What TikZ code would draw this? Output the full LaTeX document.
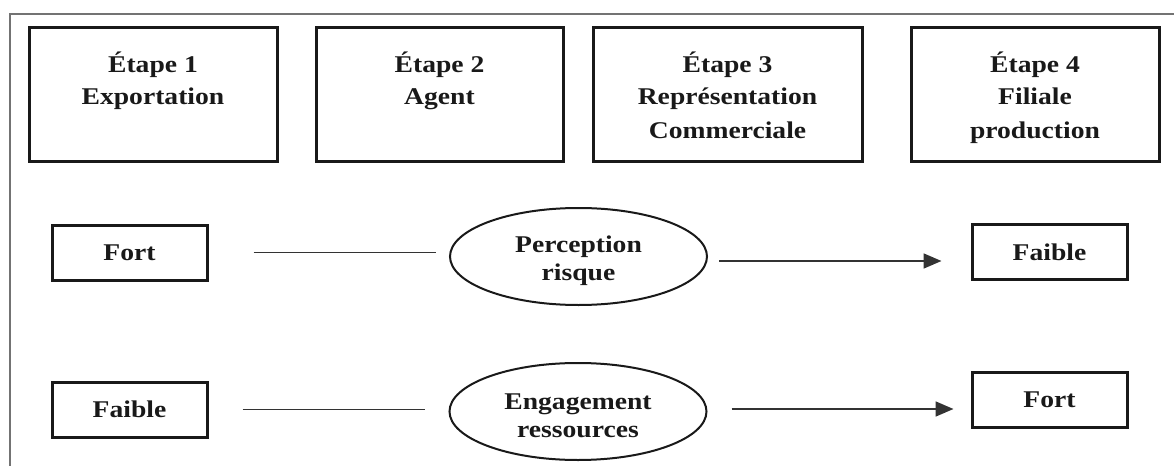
\documentclass[tikz,border=0pt]{standalone}
\usepackage{fontspec}
\setmainfont{Liberation Serif}[FakeStretch=1.15]
\usetikzlibrary{shapes.geometric,arrows.meta}
\tikzset{
  stepbox/.style={draw=black!90, line width=1.5pt, inner sep=0pt, minimum height=67pt},
  smallbox/.style={draw=black!90, line width=1.5pt, inner sep=0pt, minimum width=77.5pt, minimum height=27.5pt,
    font=\fontsize{12pt}{14pt}\selectfont\bfseries, text=black!90},
  ovalnode/.style={draw=black!90, ellipse, line width=1pt, inner sep=0pt, minimum width=128.5pt, minimum height=48.5pt,
    align=center, font=\fontsize{12pt}{14pt}\selectfont\bfseries, text=black!90},
  conn/.style={draw=black!80, line width=0.9pt},
  arr/.style={conn, -{Triangle[length=9pt,width=7.5pt]}}
}
\newcommand{\steptext}[2]{\parbox[c][67pt][t]{#1}{\centering\fontsize{12pt}{16.5pt}\selectfont\bfseries\color{black!90}\rule{0pt}{22.5pt}#2}}
\newcommand{\lowstrut}{\rule{0pt}{12.5pt}}
\begin{document}
\begin{tikzpicture}[x=0.5pt,y=-0.5pt]
\useasboundingbox (0,0) rectangle (1174,466);
\draw[black!55, line width=1pt] (9.5,470) -- (9.5,13.5) -- (1180,13.5);
% stage boxes
\node[stepbox] (e1) at (153,94) {\steptext{124pt}{Étape 1\\Exportation}};
\node[stepbox] (e2) at (439.5,94) {\steptext{123.5pt}{Étape 2\\Agent}};
\node[stepbox] (e3) at (727.5,94) {\steptext{134.5pt}{Étape 3\\Représentation\\Commerciale}};
\node[stepbox] (e4) at (1035,94) {\steptext{124pt}{Étape 4\\Filiale\\production}};
% row 1
\node[smallbox] (fort1) at (129.5,252.5) {Fort};
\node[ovalnode] (ell1) at (578.5,256.5) {\lowstrut Perception\\risque};
\node[smallbox] (faib1) at (1049.5,252) {Faible};
% row 2
\node[smallbox] (faib2) at (129.5,409.5) {Faible};
\node[ovalnode] (ell2) at (578,411.5) {\lowstrut Engagement\\ressources};
\node[smallbox] (fort2) at (1049.5,400) {Fort};
% connectors
\draw[conn, shorten <=22.5pt, shorten >=6.5pt] (fort1.east) -- (fort1.east -| ell1.west);
\draw[arr, shorten <=5.5pt, shorten >=14.5pt] ([yshift=-2.25pt]ell1.east) -- ([yshift=-2.25pt]ell1.east -| faib1.west);
\draw[conn, shorten <=17pt, shorten >=12pt] (faib2.east) -- (faib2.east -| ell2.west);
\draw[arr, shorten <=12pt, shorten >=8.5pt] ([yshift=1.25pt]ell2.east) -- ([yshift=1.25pt]ell2.east -| fort2.west);
\end{tikzpicture}
\end{document}
